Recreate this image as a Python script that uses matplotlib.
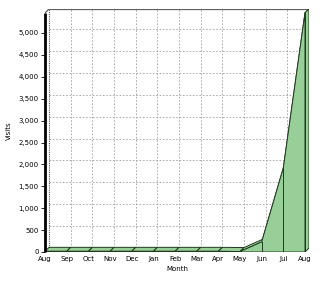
import matplotlib
matplotlib.use("Agg")
import matplotlib.pyplot as plt
from matplotlib.patches import Polygon

months = ["Aug", "Sep", "Oct", "Nov", "Dec", "Jan", "Feb", "Mar", "Apr", "May", "Jun", "Jul", "Aug"]
visits = [15, 15, 15, 15, 15, 15, 15, 15, 15, 10, 230, 1920, 5460]
yticks = [0, 500, 1000, 1500, 2000, 2500, 3000, 3500, 4000, 4500, 5000]

W, H = 320, 284
fig = plt.figure(figsize=(W / 100, H / 100), dpi=100)
fig.patch.set_facecolor("white")

# axes in pixel geometry
L, R, T, B = 45, 309, 9, 252
ax = fig.add_axes([L / W, (H - B) / H, (R - L) / W, (B - T) / H])
n = len(months) - 1
px_x = 260 / n            # pixels per month
px_y = 219 / 5000         # pixels per visit
xmax = (R - L) / px_x
ymax = (B - T) / px_y
ax.set_xlim(0, xmax)
ax.set_ylim(0, ymax)
depth = 4
dx = depth / px_x
dy = depth / px_y

for s in ax.spines.values():
    s.set_visible(False)
ax.set_facecolor("white")

# back wall grid (dashed)
gcol = "#a0a0a0"
for i in range(1, n + 1):
    ax.plot([i + dx, i + dx], [dy, ymax], color=gcol, lw=0.6, ls=(0, (2, 2)), zorder=1)
for v in yticks[1:]:
    ax.plot([dx, n + dx], [v + dy, v + dy], color=gcol, lw=0.6, ls=(0, (2, 2)), zorder=1)
# back wall left edge (dotted) and top border
ax.plot([dx, dx], [dy, ymax], color="#555555", lw=0.8, ls=(0, (1, 1)), zorder=2)
ax.plot([dx, xmax], [ymax, ymax], color="#606060", lw=0.9, zorder=2)
ax.plot([0, dx], [ymax - dy, ymax], color="#606060", lw=0.9, zorder=2)

fill = "#98cf98"
edge = "#1e3a1e"
xs = list(range(n + 1))

# top surface per segment
for i in range(n):
    quad = [(xs[i], visits[i]), (xs[i + 1], visits[i + 1]),
            (xs[i + 1] + dx, visits[i + 1] + dy), (xs[i] + dx, visits[i] + dy)]
    ax.add_patch(Polygon(quad, closed=True, facecolor=fill, edgecolor=edge, lw=0.7, zorder=3))
# right side face
side = [(xs[-1], 0), (xs[-1], visits[-1]), (xs[-1] + dx, visits[-1] + dy), (xs[-1] + dx, dy)]
ax.add_patch(Polygon(side, closed=True, facecolor=fill, edgecolor=edge, lw=0.7, zorder=3))
ax.plot([xs[-1] + dx, xs[-1] + dx], [dy, visits[-1] + dy], color=edge, lw=0.8,
        ls=(0, (1, 1)), zorder=5)
# front face
front = [(0, 0)] + list(zip(xs, visits)) + [(xs[-1], 0)]
ax.add_patch(Polygon(front, closed=True, facecolor=fill, edgecolor=edge, lw=0.7, zorder=4))
for x, v in zip(xs, visits):
    ax.plot([x, x], [0, v], color=edge, lw=0.7, zorder=5)

# left spine (thick front edge)
ax.plot([0, 0], [0, ymax - dy], color="black", lw=2, zorder=6, clip_on=False,
        solid_capstyle="butt")

ax.set_xticks(xs)
ax.set_xticklabels(months, fontsize=5)
ax.tick_params(axis="x", length=0, pad=3)
ax.set_yticks(yticks)
ax.set_yticklabels([f"{v:,}" for v in yticks], fontsize=5)
ax.tick_params(axis="y", length=3, width=0.6, pad=1.5, direction="out")
ax.set_xlabel("Month", fontsize=5, labelpad=2.5)
ax.set_ylabel("Visits", fontsize=5, labelpad=5)

fig.savefig("out.png", dpi=100, facecolor="white")
